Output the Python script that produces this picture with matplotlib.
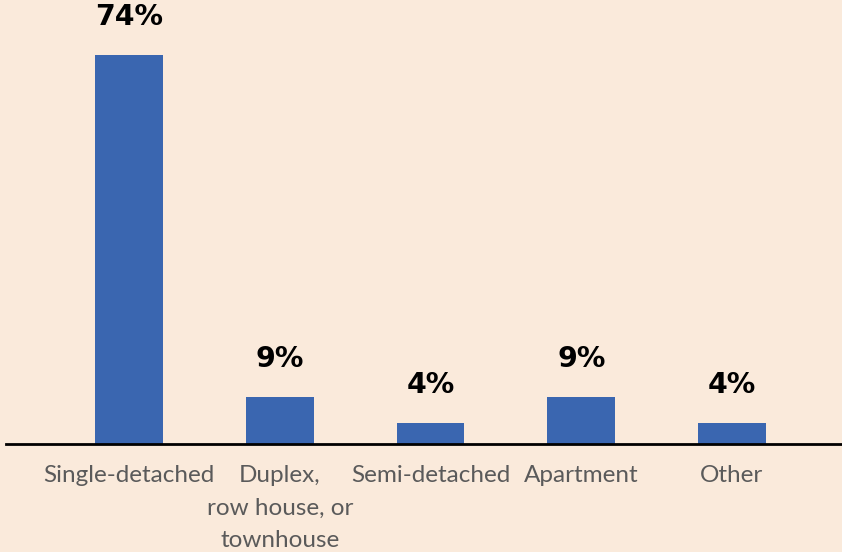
import matplotlib.pyplot as plt
import numpy as np

# housing type shares (%)
categories = ['Single-detached', 'Duplex,\nrow house, or\ntownhouse', 'Semi-detached', 'Apartment', 'Other']
shares = [74, 9, 4, 9, 4]
labels = ['74%', '9%', '4%', '9%', '4%']

bg = '#FAEADB'
blue = '#3A66B0'

fig = plt.figure(figsize=(8.42, 5.52), dpi=100, facecolor=bg)
ax = fig.add_axes([0, 108 / 552, 1, 444 / 552])
ax.set_facecolor(bg)

x = np.arange(len(categories))
bars = ax.bar(x, shares, width=0.45, color=blue, zorder=2)

# value labels above each bar
for b, lab in zip(bars, labels):
    ax.annotate(lab, (b.get_x() + b.get_width() / 2, b.get_height()),
                xytext=(0, 27), textcoords='offset points',
                ha='center', va='center', fontsize=20.5, fontweight='heavy',
                family='DejaVu Sans', color='black', annotation_clip=False)

ax.set_xlim(-0.856, 4.73)
ax.set_ylim(0, 84.4)

for s in ['top', 'right', 'left']:
    ax.spines[s].set_visible(False)
ax.spines['bottom'].set_color('black')
ax.spines['bottom'].set_linewidth(2)
ax.spines['bottom'].set_bounds(-0.816, 4.73)

ax.set_yticks([])
ax.set_xticks(x)
ax.set_xticklabels(categories, fontsize=17.5, family='Lato', color='#5A5A5A',
                   linespacing=1.68, va='top')
ax.tick_params(axis='x', length=0, pad=15)

fig.savefig('out.png', dpi=100, facecolor=bg)
